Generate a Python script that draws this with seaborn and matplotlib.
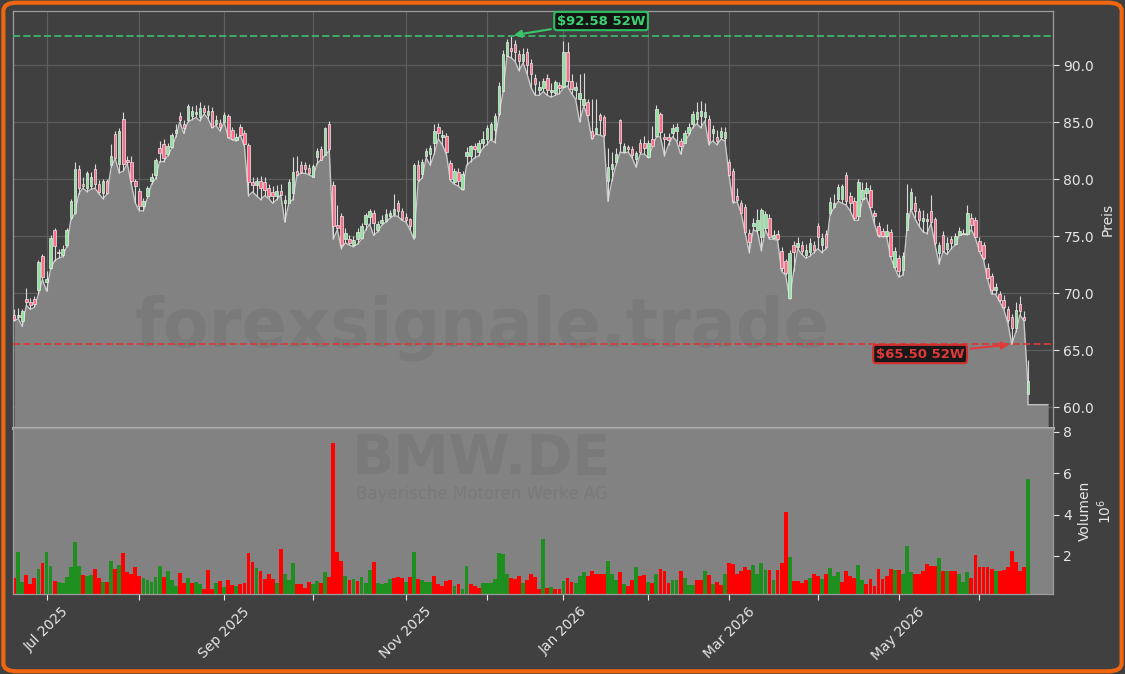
import numpy as np
import pandas as pd
import matplotlib
matplotlib.use("Agg")
import matplotlib.pyplot as plt
from matplotlib.patches import FancyBboxPatch
import seaborn as sns

# Tageskerzen BMW.DE (Kurse in EUR), ab 19.06.2025
opens = [
    68.07, 67.9, 67.58, 69.5, 69.24, 69.5, 70.23, 73.22, 70.97, 72.23,
    75.55, 73.62, 73.32, 74.22, 76.55, 77.05, 80.9, 79.6, 79.24, 79.4,
    80.87, 79.54, 78.77, 79.87, 81.2, 83.95, 81.3, 85.25, 81.7, 81.53,
    79.87, 78.97, 77.6, 78.54, 79.87, 80.37, 82.69, 83.1, 82.2, 82.79,
    84.0, 85.52, 84.85, 85.18, 85.5, 85.7, 85.4, 86.2, 85.6, 86.0,
    84.85, 84.9, 85.0, 85.5, 84.3, 83.4, 84.6, 84.0, 83.0, 79.7,
    79.5, 79.8, 79.7, 79.2, 78.87, 78.54, 78.95, 77.9, 77.9, 78.8,
    80.7, 81.2, 81.25, 81.0, 80.2, 81.9, 82.6, 82.1, 84.85, 79.5,
    76.0, 76.8, 74.7, 74.7, 74.2, 74.72, 74.82, 76.05, 76.7, 77.05,
    75.55, 76.1, 76.3, 76.8, 76.9, 77.9, 77.2, 76.7, 76.5, 74.9,
    81.2, 80.4, 82.0, 82.2, 83.2, 84.6, 83.7, 83.75, 81.43, 79.77,
    80.6, 79.14, 82.0, 82.03, 82.86, 82.36, 83.2, 83.5, 83.5, 84.3,
    85.68, 87.68, 90.83, 91.5, 91.83, 91.0, 90.33, 91.16, 90.2, 88.84,
    87.78, 88.0, 88.9, 87.6, 87.58, 88.24, 88.1, 91.1, 88.57, 87.84,
    87.0, 86.5, 86.78, 84.2, 84.0, 85.58, 85.45, 79.87, 80.87, 81.5,
    85.18, 82.36, 82.8, 82.6, 81.8, 83.19, 83.19, 81.93, 83.52, 83.76,
    85.68, 83.7, 83.7, 84.02, 84.25, 83.36, 83.19, 84.02, 84.85, 85.3,
    85.5, 85.4, 85.25, 84.0, 83.69, 83.7, 83.6, 81.53, 80.7, 78.54,
    77.94, 77.54, 75.28, 75.9, 75.55, 74.89, 75.72, 76.55, 74.82, 75.22,
    73.72, 72.83, 69.57, 74.22, 74.0, 74.2, 73.3, 73.6, 74.2, 75.88,
    74.2, 75.22, 77.0, 77.54, 78.21, 78.21, 80.37, 78.54, 78.04, 76.72,
    78.21, 78.8, 79.04, 77.05, 75.88, 75.45, 75.0, 75.38, 72.3, 73.06,
    72.06, 75.55, 77.4, 77.94, 77.21, 76.3, 76.3, 77.21, 76.45, 73.55,
    75.05, 73.89, 74.72, 74.3, 75.12, 75.3, 75.15, 76.55, 76.38, 74.55,
    74.22, 72.23, 71.5, 70.23, 69.9, 69.4, 68.57, 67.9, 66.9, 69.07,
    67.9, 61.1,
]
highs = [
    68.57, 68.7, 68.57, 70.4, 69.57, 69.74, 72.89, 73.39, 71.9, 75.05,
    75.72, 73.89, 74.22, 75.72, 78.21, 81.53, 81.2, 80.2, 80.7, 80.6,
    81.36, 79.9, 80.0, 80.0, 83.03, 84.2, 84.5, 85.91, 82.0, 82.03,
    80.0, 79.2, 78.37, 79.4, 80.5, 81.86, 83.36, 83.5, 83.2, 84.0,
    84.8, 85.85, 85.2, 86.58, 86.4, 86.5, 86.8, 86.5, 86.5, 86.3,
    85.6, 85.3, 85.9, 85.7, 84.6, 84.0, 84.8, 84.3, 83.2, 80.2,
    80.2, 80.3, 80.2, 79.6, 79.4, 79.5, 79.54, 78.6, 80.0, 81.9,
    82.0, 81.6, 81.5, 81.3, 81.3, 82.7, 82.9, 84.6, 85.1, 79.87,
    77.7, 77.0, 75.7, 75.1, 75.0, 75.7, 76.1, 77.05, 77.4, 77.3,
    76.3, 76.88, 77.4, 77.3, 78.7, 78.2, 77.5, 77.05, 76.6, 81.4,
    81.7, 81.8, 82.7, 83.0, 84.85, 84.9, 84.3, 84.0, 81.7, 81.0,
    81.0, 80.7, 82.8, 83.0, 83.2, 83.4, 84.2, 84.7, 85.0, 85.8,
    88.5, 91.3, 92.3, 92.58, 92.2, 91.3, 91.5, 91.5, 90.5, 89.2,
    88.6, 88.9, 89.2, 88.4, 88.7, 88.5, 92.1, 92.0, 89.2, 88.5,
    89.2, 89.3, 87.0, 87.0, 87.0, 85.8, 85.6, 82.7, 82.36, 82.7,
    85.3, 83.2, 83.0, 82.9, 82.5, 83.5, 83.8, 83.4, 84.69, 86.5,
    85.9, 84.0, 84.0, 84.8, 84.9, 83.6, 84.3, 84.9, 86.0, 86.8,
    86.85, 86.7, 85.6, 84.7, 84.3, 84.6, 84.6, 81.8, 81.0, 79.2,
    78.2, 77.8, 75.6, 76.55, 77.38, 77.5, 77.2, 76.9, 75.5, 75.5,
    74.0, 73.0, 73.8, 74.6, 74.9, 74.6, 74.3, 74.8, 74.6, 76.1,
    75.3, 75.5, 78.4, 78.7, 79.6, 79.6, 80.6, 78.9, 78.4, 80.0,
    79.7, 79.7, 79.5, 77.3, 76.2, 75.7, 76.05, 75.6, 74.0, 73.3,
    73.6, 79.54, 79.2, 78.5, 77.5, 77.3, 77.0, 78.6, 76.7, 74.5,
    75.4, 74.9, 75.0, 75.3, 75.8, 75.6, 77.71, 77.0, 76.7, 74.9,
    74.5, 72.6, 71.8, 70.9, 70.2, 69.8, 68.9, 68.2, 69.2, 69.74,
    68.4, 64.1,
]
lows = [
    67.58, 67.75, 67.08, 68.91, 68.57, 68.74, 69.9, 71.2, 70.17, 72.1,
    72.83, 73.06, 73.2, 74.06, 76.4, 76.95, 78.71, 79.2, 78.9, 79.1,
    79.2, 78.7, 78.27, 78.7, 81.03, 81.8, 80.53, 80.7, 81.36, 79.54,
    77.88, 77.21, 77.21, 78.37, 79.54, 80.03, 81.53, 81.53, 82.03, 82.69,
    83.7, 85.0, 84.0, 85.0, 85.2, 85.4, 85.1, 85.7, 85.3, 84.5,
    84.7, 84.2, 85.0, 83.6, 83.45, 83.35, 83.85, 82.86, 78.54, 78.87,
    78.54, 78.2, 78.54, 78.3, 77.88, 78.2, 78.6, 76.22, 77.88, 78.2,
    80.3, 80.5, 80.5, 80.37, 80.2, 81.36, 81.7, 82.1, 82.5, 74.72,
    75.55, 73.9, 74.4, 74.2, 74.06, 74.3, 74.72, 75.55, 76.05, 75.05,
    75.38, 75.95, 76.2, 76.55, 76.8, 76.72, 76.38, 76.22, 75.55, 74.72,
    79.7, 80.1, 81.86, 81.2, 82.2, 83.52, 83.0, 82.2, 79.87, 79.54,
    79.37, 79.04, 81.2, 81.53, 81.86, 82.03, 82.7, 83.02, 83.45, 83.2,
    85.5, 87.6, 90.75, 90.66, 90.33, 89.5, 90.2, 89.2, 88.0, 87.34,
    87.34, 87.68, 87.34, 87.18, 87.34, 87.5, 88.0, 88.17, 87.5, 87.0,
    85.0, 86.4, 85.5, 83.5, 83.95, 83.86, 83.7, 78.04, 79.87, 81.2,
    82.36, 82.3, 82.36, 81.86, 81.03, 82.19, 82.19, 81.86, 82.8, 83.7,
    83.7, 82.03, 83.02, 83.7, 83.36, 82.19, 83.15, 83.86, 84.52, 84.85,
    84.5, 85.1, 83.0, 83.35, 83.0, 83.5, 83.35, 80.3, 77.9, 78.0,
    77.0, 75.22, 73.55, 75.55, 75.38, 73.72, 75.55, 74.72, 74.72, 74.62,
    71.9, 71.56, 69.5, 71.9, 73.89, 73.39, 73.06, 73.22, 73.55, 73.89,
    73.55, 73.89, 76.88, 77.5, 78.04, 77.88, 77.71, 77.21, 76.38, 76.38,
    78.1, 78.37, 77.38, 76.05, 74.95, 74.95, 74.95, 73.15, 72.23, 71.4,
    71.56, 75.5, 77.38, 76.55, 75.88, 75.38, 75.22, 76.1, 74.22, 72.56,
    73.65, 73.39, 73.89, 74.22, 75.05, 75.15, 75.1, 75.55, 74.82, 73.65,
    72.89, 71.23, 69.9, 69.9, 69.24, 68.57, 67.41, 65.5, 66.58, 68.07,
    67.57, 61.8,
]
closes = [
    67.64, 68.05, 68.41, 69.24, 68.91, 69.0, 72.73, 71.4, 71.23, 74.82,
    74.12, 73.49, 73.89, 75.55, 78.04, 80.87, 79.2, 79.4, 80.5, 80.2,
    79.54, 78.9, 79.87, 78.77, 82.03, 81.86, 84.2, 81.36, 81.5, 79.87,
    79.37, 77.64, 78.04, 79.2, 80.2, 81.7, 82.26, 81.86, 82.86, 83.86,
    84.3, 85.2, 84.45, 86.45, 86.0, 85.9, 86.2, 85.9, 86.0, 84.6,
    85.2, 84.6, 85.6, 83.7, 83.5, 83.7, 83.9, 83.1, 79.7, 79.5,
    79.8, 79.2, 79.05, 78.54, 78.5, 78.97, 78.62, 78.2, 79.7, 80.6,
    80.35, 80.6, 80.85, 80.55, 81.13, 82.45, 81.7, 84.45, 82.6, 75.9,
    75.7, 74.2, 75.3, 74.4, 74.65, 75.38, 75.88, 76.88, 77.2, 76.15,
    76.05, 76.4, 76.9, 77.0, 77.4, 77.2, 76.5, 76.4, 75.9, 81.2,
    79.9, 81.53, 82.5, 82.7, 84.2, 84.0, 83.9, 82.36, 80.03, 80.7,
    79.87, 80.47, 82.4, 82.86, 82.6, 83.19, 83.5, 84.5, 84.85, 85.5,
    88.17, 91.0, 92.0, 91.2, 91.16, 90.33, 91.0, 90.0, 89.2, 88.34,
    88.1, 88.57, 87.84, 87.8, 88.5, 88.0, 91.1, 88.57, 87.9, 88.07,
    87.57, 87.0, 85.58, 83.6, 84.5, 85.18, 83.86, 81.03, 81.36, 82.2,
    83.19, 82.86, 82.6, 82.1, 82.26, 82.36, 82.7, 83.19, 82.9, 86.11,
    84.09, 83.52, 83.45, 84.52, 84.6, 82.93, 84.02, 84.58, 85.68, 85.9,
    86.0, 85.9, 83.35, 84.4, 83.35, 84.2, 84.1, 80.37, 78.04, 78.14,
    77.05, 75.38, 74.49, 76.1, 76.38, 77.28, 76.95, 74.89, 75.12, 74.72,
    72.23, 71.73, 73.55, 73.62, 74.4, 73.7, 73.8, 74.4, 73.8, 74.89,
    74.8, 74.05, 78.0, 77.94, 79.3, 79.37, 78.04, 77.88, 76.55, 79.7,
    79.04, 79.2, 77.54, 76.72, 75.05, 74.99, 75.4, 73.22, 73.72, 71.9,
    73.22, 77.05, 78.9, 77.21, 76.38, 76.6, 76.5, 76.22, 74.39, 74.22,
    73.72, 74.39, 74.39, 75.0, 75.45, 75.2, 77.05, 75.95, 74.89, 73.72,
    73.06, 71.3, 70.23, 70.5, 69.4, 68.74, 67.6, 66.9, 68.5, 68.4,
    67.6, 62.3,
]
# Volumen in Mio. Stück, Farbe g = steigend, r = fallend
volumes = [
    0.94, 2.18, 0.75, 1.07, 0.65, 0.94, 1.37, 1.66, 2.18, 1.52,
    0.79, 0.75, 0.71, 0.99, 1.49, 2.67, 1.52, 1.07, 1.04, 1.07,
    1.37, 0.94, 0.75, 0.75, 1.74, 1.37, 1.55, 2.14, 1.22, 1.11,
    1.49, 1.02, 0.94, 0.82, 0.75, 0.97, 1.52, 0.97, 1.26, 0.84,
    0.56, 1.17, 0.69, 0.94, 0.71, 0.75, 0.65, 0.42, 1.34, 0.42,
    0.71, 0.79, 0.52, 0.84, 0.6, 0.56, 0.65, 0.71, 2.14, 1.7,
    1.41, 1.26, 0.9, 1.15, 0.9, 0.71, 2.32, 1.15, 0.84, 1.66,
    0.65, 0.65, 0.47, 0.75, 0.65, 0.79, 0.71, 1.22, 1.0, 7.47,
    2.18, 1.76, 1.02, 0.84, 0.87, 0.81, 1.0, 0.71, 1.3, 1.7,
    0.71, 0.65, 0.71, 0.9, 0.94, 0.97, 0.94, 0.75, 0.97, 2.21,
    0.9, 0.84, 0.75, 0.75, 1.02, 0.65, 0.56, 0.79, 0.84, 0.56,
    0.65, 0.38, 1.52, 0.65, 0.56, 0.47, 0.71, 0.71, 0.71, 0.9,
    2.12, 2.1, 1.11, 0.94, 0.9, 1.02, 0.71, 0.85, 1.11, 0.97,
    0.42, 2.8, 0.47, 0.52, 0.38, 0.38, 0.79, 0.94, 0.75, 0.71,
    1.02, 1.21, 1.02, 1.26, 1.11, 1.11, 1.11, 1.74, 1.11, 0.84,
    1.21, 0.65, 0.56, 0.84, 1.49, 1.02, 1.07, 0.75, 0.71, 1.11,
    1.37, 1.26, 0.71, 0.84, 0.84, 1.26, 0.94, 0.6, 0.6, 0.84,
    0.84, 1.26, 1.07, 0.65, 0.75, 0.6, 1.11, 1.66, 1.63, 1.11,
    1.26, 1.45, 1.3, 1.55, 1.11, 1.66, 1.3, 1.3, 0.84, 1.3,
    1.66, 4.15, 1.94, 0.79, 0.79, 0.71, 0.84, 0.94, 1.11, 1.02,
    0.9, 1.11, 1.41, 1.02, 1.21, 0.75, 1.26, 1.02, 0.94, 1.55,
    0.84, 0.65, 0.9, 0.55, 1.39, 0.9, 1.02, 1.39, 1.3, 1.34,
    1.15, 2.49, 1.21, 1.15, 1.11, 1.26, 1.63, 1.52, 1.52, 1.89,
    1.26, 1.26, 1.26, 1.26, 1.11, 0.75, 1.21, 0.94, 2.04, 1.45,
    1.45, 1.49, 1.39, 1.26, 1.26, 1.34, 1.45, 2.25, 1.7, 1.26,
    1.49, 5.74,
]
vol_dir = (
    "rggrrrgrgg" "rggggggrgg" "rrgrgrgrrr" "rrgggggrgg" "grrgrggrrr"
    "grgrrgrrrr" "grrrrgrggg" "rrrrggrgrr" "rrgrgrgggr" "ggggrrrgrg"
    "rgggrrrrrg" "rggrrrgggg" "gggrrrgrrr" "rgrgrrgrrg" "ggrrrrrggg"
    "rgrrgrrgrg" "rrrggrgggr" "rgrgrrgrrr" "rrrggggrgr" "rrgrrrrgrr"
    "grgggrrrrg" "grrrrrrrgr" "gggrrrrrrg" "rgrrgggrrr" "rrrgrrrrrr"
    "rg"
)
# Fläche läuft nach der letzten Kerze flach weiter
pad_lows = [60.2, 60.2, 60.2, 60.2, 60.2, 60.2]

high_52w = 92.58
low_52w = 65.50
price_ticks = [60, 65, 70, 75, 80, 85, 90]
vol_ticks = [2, 4, 6, 8]
holidays = ["2025-12-24", "2025-12-25", "2025-12-26", "2025-12-31",
            "2026-01-01", "2026-04-03", "2026-04-06", "2026-05-01"]

BG = "#404040"
TXT = "#e6e6e6"
SPINE = "#9c9c9c"
WM = "#2a2a2a"

dates = pd.bdate_range("2025-06-19", periods=len(closes), freq="C", holidays=holidays)
idx = np.arange(len(closes))
o, h, l, c = (np.array(v) for v in (opens, highs, lows, closes))

sns.set_theme(style="dark")
plt.rcParams["font.family"] = ["DejaVu Sans"]

W, H = 1125, 674
fig = plt.figure(figsize=(W / 100, H / 100), dpi=100, facecolor=BG)
ax = fig.add_axes([13 / W, 1 - 428 / H, 1040 / W, 417 / H])
axv = fig.add_axes([13 / W, 1 - 594 / H, 1040 / W, 166 / H], sharex=ax)

# --- Kurspanel ---
ax.set_facecolor(BG)
ax.grid(True, color="#5e5e5e", lw=0.9)
ax.set_axisbelow(True)

pad_x = idx[-1] + np.arange(len(pad_lows))
fill_x = np.concatenate([idx, pad_x])
fill_y = np.concatenate([l, pad_lows])
ax.fill_between(fill_x, fill_y, 40, color="#828282", lw=0, zorder=1)
sns.lineplot(x=fill_x, y=fill_y, ax=ax, color="#c8c8c8", lw=1.0,
             estimator=None, sort=False, zorder=2)

ax.text(0.451, 0.241, "forexsignale.trade", transform=ax.transAxes,
        fontsize=48, fontweight="bold", color=WM, alpha=0.09,
        ha="center", va="center", zorder=2)

up = c >= o
ax.vlines(idx, l, h, color="#d9d9d9", lw=0.8, zorder=3)
ax.bar(idx, np.maximum(np.abs(c - o), 0.06), bottom=np.minimum(o, c), width=0.62,
       color=np.where(up, "#8fe39c", "#ff6b88"), edgecolor="#ececec",
       linewidth=0.5, zorder=4)

ax.axhline(high_52w, color="#3cb96a", ls="--", lw=1.4, alpha=0.9, zorder=5)
ax.axhline(low_52w, color="#d83a3a", ls="--", lw=1.4, alpha=0.9, zorder=5)

hi_pos = int(np.argmax(h))
lo_pos = int(np.where(l == low_52w)[0][0])
ax.annotate(f"\\${high_52w:.2f} 52W", xy=(hi_pos, high_52w), xytext=(145.3, 93.86),
            color="#3fd273", fontsize=9.5, fontweight="bold", ha="center", va="center",
            bbox=dict(boxstyle="round,pad=0.2", fc="#141414", ec="#2fbf63", lw=1.5),
            arrowprops=dict(arrowstyle="-|>", color="#3cc46c", lw=1.5, mutation_scale=11),
            zorder=6)
ax.annotate(f"\\${low_52w:.2f} 52W", xy=(lo_pos, low_52w), xytext=(224.3, 64.65),
            color="#e03a3a", fontsize=9.5, fontweight="bold", ha="center", va="center",
            bbox=dict(boxstyle="round,pad=0.2", fc="#181818", ec="#d42f2f", lw=1.5),
            arrowprops=dict(arrowstyle="-|>", color="#e03a3a", lw=1.5, mutation_scale=11),
            zorder=6)

ax.set_ylim(58.16, 94.74)
ax.set_yticks(price_ticks)
ax.set_yticklabels([f"{t:.1f}" for t in price_ticks])
ax.yaxis.tick_right()
ax.yaxis.set_label_position("right")
ax.set_ylabel("Preis", color=TXT, fontsize=10, labelpad=5)
ax.tick_params(axis="y", colors=TXT, labelsize=10, length=4, width=0.8,
               right=True, left=False, labelright=True, labelleft=False)
ax.tick_params(axis="x", bottom=False, labelbottom=False)
for sp in ax.spines.values():
    sp.set_color(SPINE)
    sp.set_linewidth(0.9)
ax.spines["bottom"].set_linewidth(2.2)
ax.spines["bottom"].set_color("#b0b0b0")

# --- Volumenpanel ---
vol_df = pd.DataFrame({"pos": idx, "vol": volumes, "dir": list(vol_dir)})
sns.barplot(data=vol_df, x="pos", y="vol", hue="dir", ax=axv,
            palette={"g": "#1e8f1e", "r": "#ff0000"}, native_scale=True,
            dodge=False, width=0.95, errorbar=None, saturation=1,
            legend=False, linewidth=0)
axv.set_facecolor("#828282")
axv.text(0.451, 0.815, "BMW.DE", transform=axv.transAxes, fontsize=40,
         fontweight="bold", color=WM, alpha=0.09, ha="center", va="center")
axv.text(0.451, 0.6, "Bayerische Motoren Werke AG", transform=axv.transAxes,
         fontsize=12, color=WM, alpha=0.09, ha="center", va="center")
axv.set_ylim(0.16, 8.19)
axv.set_yticks(vol_ticks)
axv.set_yticklabels([str(t) for t in vol_ticks])
axv.yaxis.tick_right()
axv.yaxis.set_label_position("right")
axv.set_ylabel("Volumen\n$10^6$", color=TXT, fontsize=10, labelpad=4)
axv.set_xlabel("")
axv.tick_params(axis="y", colors=TXT, labelsize=10, length=4, width=0.8,
                right=True, left=False, labelright=True, labelleft=False)
for sp in axv.spines.values():
    sp.set_color(SPINE)
    sp.set_linewidth(0.9)

month_pos = [i for i in range(1, len(dates)) if dates[i].month != dates[i - 1].month]
month_lab = [dates[i].strftime("%b %Y") if dates[i].month % 2 == 1 else "" for i in month_pos]
axv.set_xticks(month_pos)
axv.set_xticklabels(month_lab, rotation=45)
axv.tick_params(axis="x", colors=TXT, labelsize=10, length=4, width=0.8, bottom=True)
ax.set_xlim(-0.3, 257.2)

fig.patches.append(FancyBboxPatch((0.003, 0.004), 0.994, 0.992,
                                  boxstyle="round,pad=0,rounding_size=0.012",
                                  transform=fig.transFigure, fill=False,
                                  edgecolor="#f0650f", lw=3))

fig.savefig("out.png", dpi=100, facecolor=BG)
